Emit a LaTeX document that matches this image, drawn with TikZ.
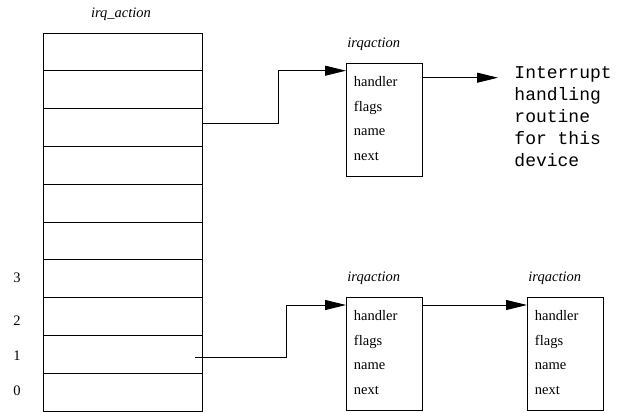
\documentclass[tikz,border=0pt]{standalone}
\usepackage{fontspec}
\setmainfont{Liberation Serif}
\setmonofont{Liberation Mono}
\usetikzlibrary{arrows.meta}
\begin{document}
\begin{tikzpicture}[x=1pt,y=-1pt, line width=0.9pt,
 cell/.style={draw, minimum width=159pt, minimum height=37.8pt, inner sep=0pt, outer sep=0pt, anchor=north west},
 rec/.style={draw, minimum width=76pt, minimum height=113pt, inner sep=0pt, outer sep=0pt, anchor=north west},
 fld/.style={anchor=base west, inner sep=0pt, font=\fontsize{14.5}{17}\selectfont},
 ttl/.style={anchor=base west, inner sep=0pt, font=\fontsize{14.5}{17}\selectfont\itshape},
 ptr/.style={-{Triangle[length=21pt,width=10pt]}, line width=0.9pt}]
\useasboundingbox (0,0) rectangle (621,412);

% array
\node[ttl, anchor=base] (arrtitle) at (121,17.5) {irq\_action};
\foreach \i in {0,...,9} {
  \node[cell] (r\i) at (43,{33+(9-\i)*37.8}) {};
}
\node[fld, anchor=base] (n3) at (17,282) {3};
\node[fld, anchor=base] (n2) at (17,325) {2};
\node[fld, anchor=base] (n1) at (17,360.5) {1};
\node[fld, anchor=base] (n0) at (17,395) {0};

% irqaction boxes
\node[rec] (b1) at (346,63.3) {};
\node[rec] (b2) at (346,297.3) {};
\node[rec] (b3) at (527,297.3) {};

\foreach \b/\X/\Y in {1/346/63.3, 2/346/297.3, 3/527/297.3} {
  \node[ttl] (t\b) at ({\X+1},{\Y-16}) {irqaction};
  \node[fld] (h\b) at ({\X+7.5},{\Y+23}) {handler};
  \node[fld] (f\b) at ({\X+7.5},{\Y+47.7}) {flags};
  \node[fld] (m\b) at ({\X+7.5},{\Y+72.4}) {name};
  \node[fld] (x\b) at ({\X+7.5},{\Y+97.1}) {next};
}

% routine text (base anchor = last line's baseline)
\node[anchor=base west, inner sep=0pt, align=left, font=\ttfamily\fontsize{18}{22}\selectfont] (rt) at (514,166) {Interrupt\\handling\\routine\\for this\\device};

% connectors
\coordinate (s1) at (202,123.3);
\coordinate (s2) at (195,357.7);
\coordinate (e0) at (498,77.7);
\draw[ptr] (s1) -- ++(76,0) |- ([yshift=-7.4pt]b1.north west);
\draw[ptr] (s2) -- ++(91,0) |- ([yshift=-7.7pt]b2.north west);
\draw[ptr] ([yshift=-7.7pt]b2.north east) -- ([yshift=-7.7pt]b3.north west);
\draw[ptr] ([yshift=-14.4pt]b1.north east) -- (e0);
\end{tikzpicture}
\end{document}
